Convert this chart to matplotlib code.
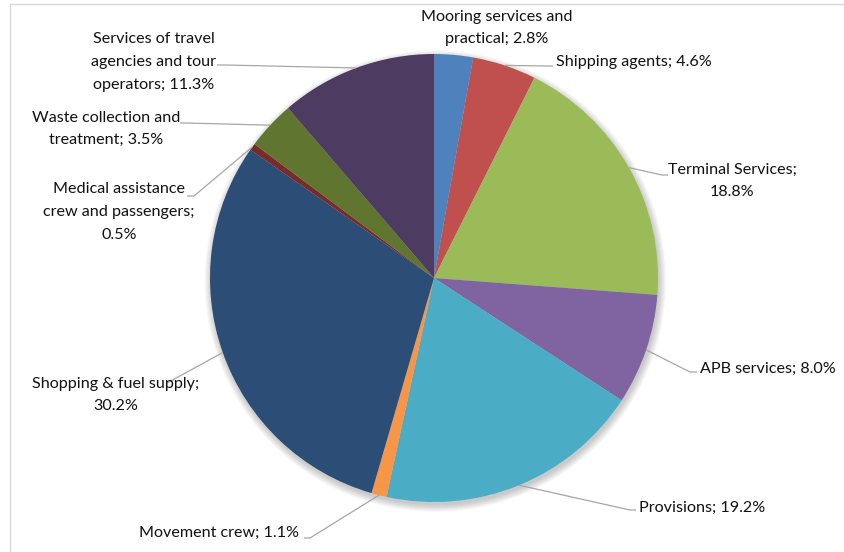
import matplotlib
matplotlib.use("Agg")
import matplotlib.pyplot as plt
import numpy as np
from matplotlib.patches import Circle
from matplotlib.lines import Line2D

# share of port spending per service (percent)
categories = [
    "Mooring services and\npractical",
    "Shipping agents",
    "Terminal Services",
    "APB services",
    "Provisions",
    "Movement crew",
    "Shopping & fuel supply",
    "Medical assistance\ncrew and passengers",
    "Waste collection and\ntreatment",
    "Services of travel\nagencies and tour\noperators",
]
shares = [2.8, 4.6, 18.8, 8.0, 19.2, 1.1, 30.2, 0.5, 3.5, 11.3]
# whether the value goes on its own line in the label
value_on_new_line = [False, False, True, False, False, False, True, True, False, False]

colors = ["#4F81BD", "#C0504D", "#9BBB59", "#8064A2", "#4BACC6",
          "#F79646", "#2C4D75", "#772C2A", "#5F7530", "#4D3B62"]

W, H = 845, 552
CX, CY, R = 434, 278, 224   # pie centre / radius in pixels


def px(x, y):
    # pixel position (from top-left) -> data units of the pie axes
    return (x - CX) / R, (CY - y) / R


plt.rcParams["font.family"] = ["Lato", "DejaVu Sans"]

fig = plt.figure(figsize=(W / 100, H / 100), dpi=100)
ax = fig.add_axes([0, 0, 1, 1])

# soft drop shadow under the pie
for k in range(7):
    ax.add_patch(Circle((0.006, -0.014), 1.0 + 0.005 * k, color="black",
                        alpha=0.03, lw=0, zorder=0))

wedges, _ = ax.pie(shares, colors=colors, startangle=90, counterclock=False,
                   radius=1.0, wedgeprops=dict(linewidth=0), center=(0, 0))
for w in wedges:
    w.set_zorder(2)

ax.set_xlim(-CX / R, (W - CX) / R)
ax.set_ylim(-(H - CY) / R, CY / R)
ax.set_aspect("equal")
ax.axis("off")

# label placement: (anchor x, anchor y, ha), leader elbow, leader tail
layout = [
    ((497, 28, "center"), None, None),
    ((556, 62, "left"), (548, 66), (553, 66)),
    ((732, 181, "center"), (662, 175), (668, 175)),
    ((700, 369, "left"), (690, 372), (697, 372)),
    ((639, 508, "left"), (630, 510), (636, 510)),
    ((299, 533, "right"), (310, 538), (304, 538)),
    ((116, 395, "center"), (167, 383), None),
    ((119, 212, "center"), (194, 196), (187, 196)),
    ((106, 129, "center"), (186, 123), (180, 123)),
    ((154, 62, "center"), (225, 65), (217, 65)),
]

for w, name, v, brk, (pos, elbow, tail) in zip(wedges, categories, shares,
                                               value_on_new_line, layout):
    text = f"{name};" + ("\n" if brk else " ") + f"{v:.1f}%"
    tx, ty = px(pos[0], pos[1])
    ax.text(tx, ty, text, ha=pos[2], va="center", multialignment="center",
            fontsize=11.6, color="#111111", linespacing=1.78, zorder=5)
    if elbow is None:
        continue
    mid = np.deg2rad((w.theta1 + w.theta2) / 2)
    pts = [(np.cos(mid), np.sin(mid)), px(*elbow)]
    if tail is not None:
        pts.append(px(*tail))
    xs, ys = zip(*pts)
    ax.plot(xs, ys, color="#a6a6a6", lw=0.9, zorder=3, solid_capstyle="butt")

# chart area frame
fig.add_artist(Line2D([10 / W, 1], [1 - 4 / H, 1 - 4 / H], color="#d9d9d9", lw=1))
fig.add_artist(Line2D([10 / W, 10 / W], [0, 1 - 4 / H], color="#d9d9d9", lw=1))

fig.savefig("out.png", dpi=100)
